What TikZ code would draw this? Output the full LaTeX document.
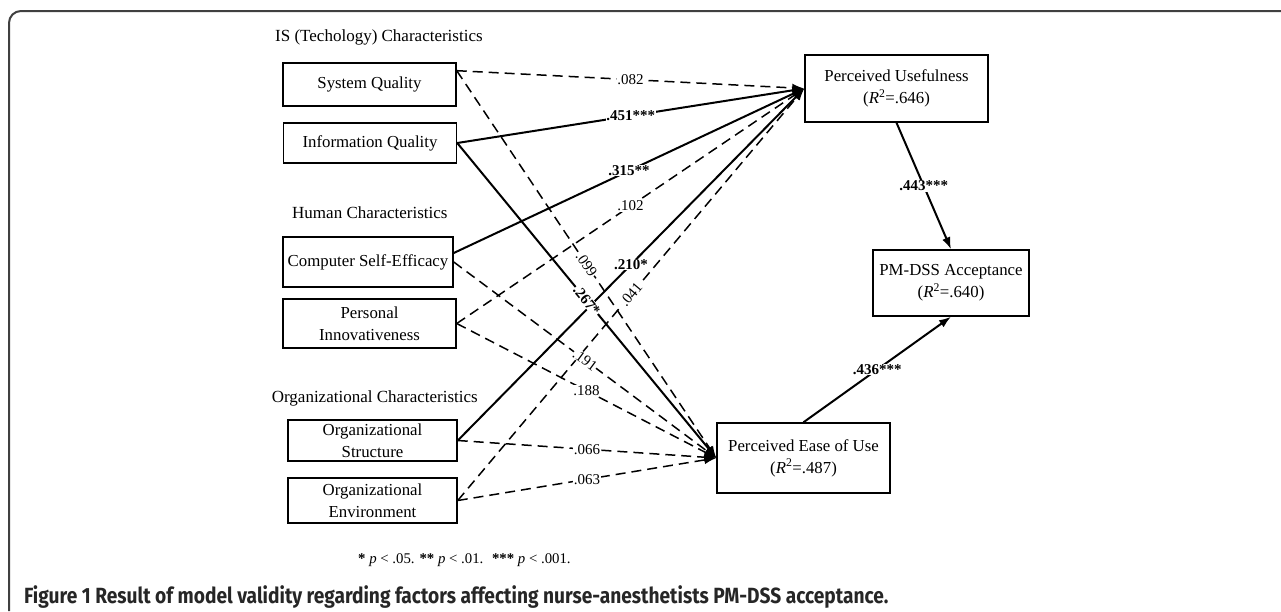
\documentclass[tikz,border=0pt]{standalone}
\usepackage{fontspec}
\setmainfont{Liberation Serif}
\newfontfamily\capfont[FakeStretch=0.87]{Fira Sans}
\usepackage{tikz}
\usetikzlibrary{arrows.meta}
\def\rsq{\textit{R}\textsuperscript{2}}

\tikzset{
box/.style={draw, line width=1.5pt, align=center, inner sep=2pt, font=\fontsize{16.8}{22}\selectfont},
hdr/.style={inner sep=0pt, font=\fontsize{17}{20}\selectfont},
sig/.style={line width=2pt},
ns/.style={line width=1.5pt, dash pattern=on 10pt off 6pt},
lbl/.style={fill=white, inner sep=0.5pt, font=\fontsize{15}{16}\selectfont},
lblb/.style={lbl, font=\fontsize{15}{16}\selectfont\bfseries},
}

\begin{document}
\begin{tikzpicture}[x=1pt,y=-1pt,>={Latex[length=12pt,width=8.5pt]}]
\useasboundingbox (0,0) rectangle (1281,611);
\draw[line width=2pt, black!75, rounded corners=12pt] (9,611) -- (9,11) -- (1281,11);

% groups
\node[hdr,anchor=west]		(is)		at (275,37)		{IS (Techology) Characteristics};
\node[hdr,anchor=west]		(hum)		at (292,213)	{Human Characteristics};
\node[hdr,anchor=east]		(org)		at (478,398)	{Organizational Characteristics};

% factors
\node[box, minimum width=173pt, minimum height=43pt]	(sq)	at (369.5,84.5)	{System Quality};
\node[box, minimum width=173pt, minimum height=40pt]	(iq)	at (370,143)	{Information Quality};
\node[box, minimum width=170pt, minimum height=50pt]	(cse)	at (368,262)	{Computer Self-Efficacy};
\node[box, minimum width=173pt, minimum height=49pt]	(pi)	at (369.5,323.5)	{Personal\\Innovativeness};
\node[box, minimum width=169pt, minimum height=41pt]	(os)	at (372.5,440.5)	{Organizational\\Structure};
\node[box, minimum width=169pt, minimum height=45pt]	(oe)	at (372.5,500.5)	{Organizational\\Environment};

% outcomes
\node[box, minimum width=183pt, minimum height=67pt]	(pu)	at (896.5,88.5)	{Perceived Usefulness\\(\rsq=.646)};
\node[box, minimum width=156pt, minimum height=66pt]	(pm)	at (951,283)	{PM-DSS Acceptance\\(\rsq=.640)};
\node[box, minimum width=173pt, minimum height=70pt]	(peou)	at (803.5,458)	{Perceived Ease of Use\\(\rsq=.487)};

% paths
\path[->]
(sq.9)		edge[ns]		(pu.west)
			edge[ns]		(peou.west)
(iq.east)	edge[sig]		(pu.west)
			edge[sig]		(peou.west)
(cse.6)		edge[sig]		(pu.west)
(cse.east)	edge[ns]		(peou.west)
(pi.east)	edge[ns]		(pu.west)
			edge[ns]		(peou.west)
(os.east)	edge[sig]		(pu.west)
			edge[ns]		(peou.west)
(oe.east)	edge[ns]		(pu.west)
			edge[ns]		(peou.west)
(pu.south)	edge[sig]		(pm.north)
(peou.north) edge[sig]		(pm.south)
;

% coefficients, on top of all lines
\path[every edge/.style={draw=none}]
(sq.9)		edge			node[lbl]				{.082}		(pu.west)
			edge			node[lbl,sloped]		{.099}		(peou.west)
(iq.east)	edge			node[lblb]				{.451***}	(pu.west)
			edge			node[lblb,sloped]		{.267*}		(peou.west)
(cse.6)		edge			node[lblb]				{.315**}	(pu.west)
(cse.east)	edge			node[lbl,sloped]		{.191}		(peou.west)
(pi.east)	edge			node[lbl]				{.102}		(pu.west)
			edge			node[lbl]				{.188}		(peou.west)
(os.east)	edge			node[lblb]				{.210*}		(pu.west)
			edge			node[lbl]				{.066}		(peou.west)
(oe.east)	edge			node[lbl,sloped]		{.041}		(pu.west)
			edge			node[lbl]				{.063}		(peou.west)
(pu.south)	edge			node[lblb]				{.443***}	(pm.north)
(peou.north) edge			node[lblb]				{.436***}	(pm.south)
;

\node[anchor=west, inner sep=0pt, font=\fontsize{14.8}{16}\selectfont]	(note)	at (358,560)	{\textbf{*} \textit{p} < .05. \textbf{**} \textit{p} < .01. \ \textbf{***} \textit{p} < .001.};
\node[anchor=west, inner sep=0pt, text=black!85, font=\capfont\fontsize{22}{24}\selectfont\bfseries]	(cap)	at (24,597)	{Figure 1 Result of model validity regarding factors affecting nurse-anesthetists PM-DSS acceptance.};
\end{tikzpicture}
\end{document}
